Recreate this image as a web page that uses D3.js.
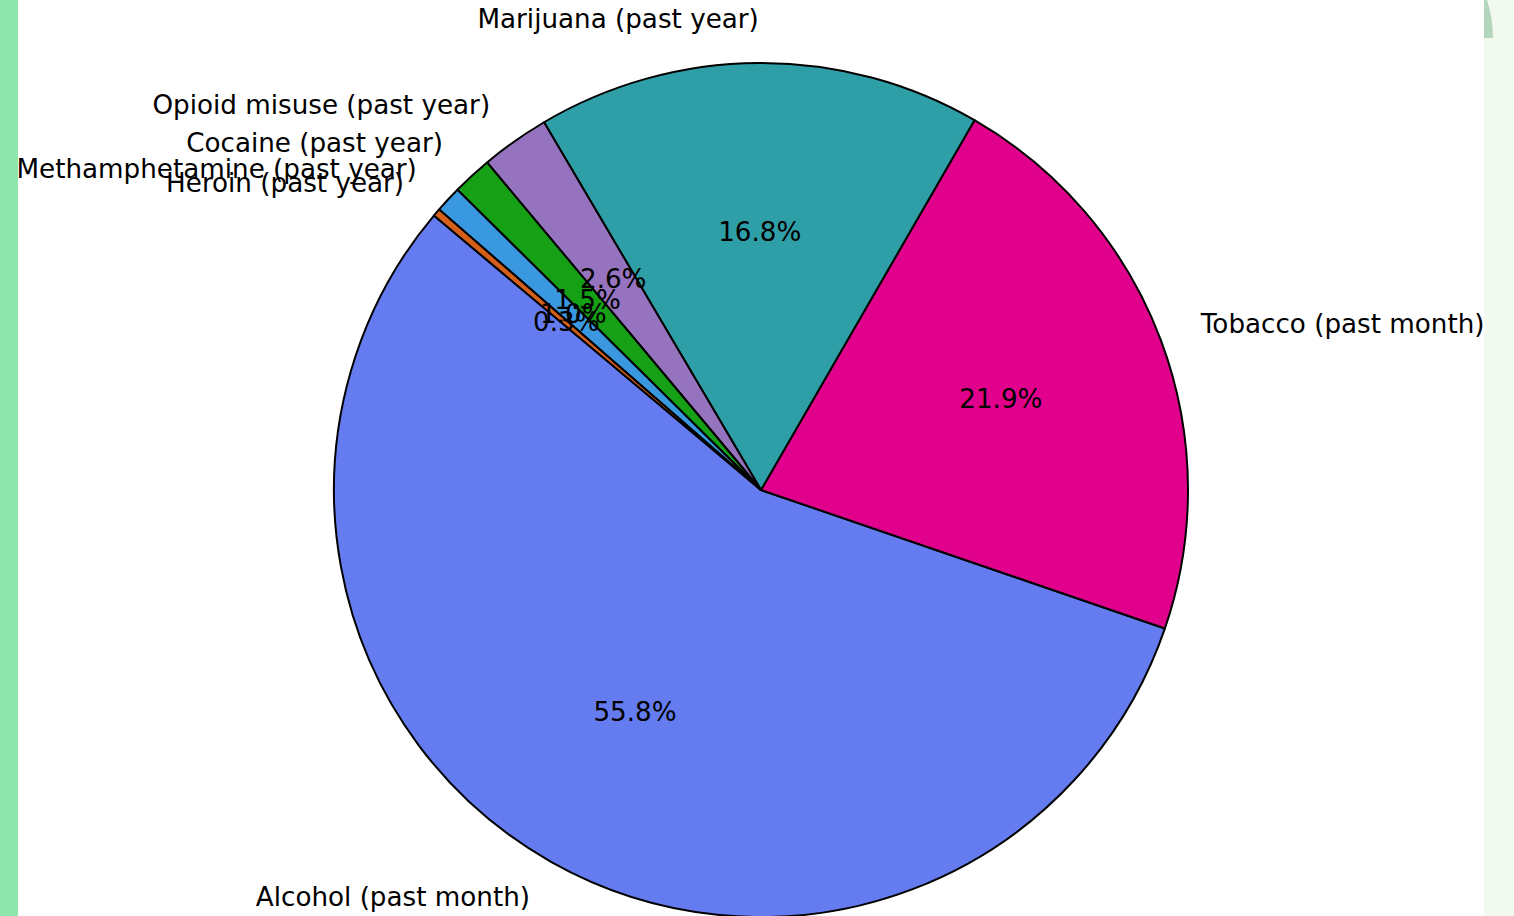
<!DOCTYPE html>
<html><head><meta charset="utf-8">
<script src="https://cdn.jsdelivr.net/npm/d3@7"></script>
<style>html,body{margin:0;padding:0;background:#fff;overflow:hidden}</style>
</head><body>
<svg id="c" width="1514" height="916"></svg>
<script>
const categories = ["Alcohol (past month)", "Tobacco (past month)", "Marijuana (past year)", "Opioid misuse (past year)", "Cocaine (past year)", "Methamphetamine (past year)", "Heroin (past year)"];
const shares = [55.8, 21.9, 16.8, 2.6, 1.5, 1.0, 0.3];
const colors = ["#647cef", "#e1008c", "#2e9fa7", "#9573be", "#15a015", "#3a98e0", "#d6601a"];

const svg = d3.select("#c");
svg.append("rect").attr("x",0).attr("y",0).attr("width",18).attr("height",916).attr("fill","#8ee6ac");
svg.append("rect").attr("x",1484).attr("y",0).attr("width",30).attr("height",916).attr("fill","#f2faf0");
svg.append("path").attr("d","M1484,0 L1487,0 Q1493,18 1493,38 L1484,38 Z").attr("fill","#b3d7bd");

const cx = 761, cy = 490, r = 427;
const data = categories.map((c,i)=>({label:c, value:shares[i], color:colors[i]}));
const startDeg = 140;
const toRad = d => d*Math.PI/180;
const pie = d3.pie().sort(null).value(d=>d.value)
  .startAngle(toRad(90-startDeg)).endAngle(toRad(90-startDeg-360));
const arcs = pie(data);
const arc = d3.arc().innerRadius(0).outerRadius(r);
const g = svg.append("g").attr("transform",`translate(${cx},${cy})`);
g.selectAll("path.w").data(arcs).join("path").attr("class","w")
  .attr("d",arc).attr("fill",d=>d.data.color).attr("stroke","#000").attr("stroke-width",2).attr("stroke-linejoin","round");

const font = "DejaVu Sans";
const fs = 26.2;
const dy = -1.5;
arcs.forEach(d=>{
  const a = (d.startAngle+d.endAngle)/2;
  const lx = Math.sin(a)*r*1.1, ly = -Math.cos(a)*r*1.1;
  g.append("text").attr("x",lx).attr("y",ly+dy)
    .attr("text-anchor", lx>0?"start":"end").attr("dominant-baseline","central")
    .attr("font-family",font).attr("font-size",fs).attr("fill","#000").text(d.data.label);
  const px = Math.sin(a)*r*0.6, py = -Math.cos(a)*r*0.6;
  g.append("text").attr("x",px).attr("y",py+dy)
    .attr("text-anchor","middle").attr("dominant-baseline","central")
    .attr("font-family",font).attr("font-size",fs).attr("fill","#000").text(d.data.value.toFixed(1)+"%");
});
</script>
</body></html>
